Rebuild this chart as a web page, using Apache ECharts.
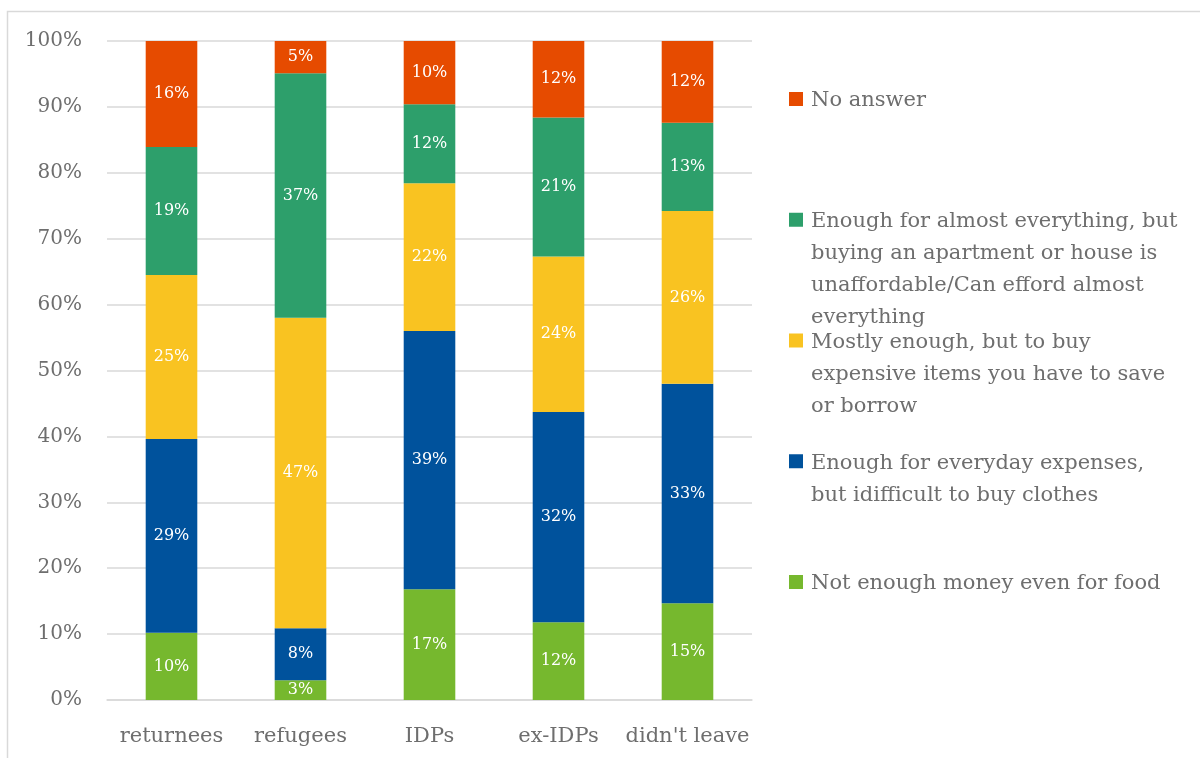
<!DOCTYPE html>
<html>
<head>
<meta charset="utf-8">
<script src="https://cdn.jsdelivr.net/npm/echarts@6/dist/echarts.min.js"></script>
<style>
  html, body { margin: 0; padding: 0; background: #fff; }
  #chart { width: 1200px; height: 758px; }
</style>
</head>
<body>
<div id="chart"></div>
<script>
// Groups by displacement status
const categories = ['returnees', 'refugees', 'IDPs', 'ex-IDPs', "didn't leave"];

// Share of respondents (%) per income-adequacy answer, bottom of stack first
const notEnoughFood   = [10.2, 3.0, 16.8, 11.8, 14.7];
const everydayOnly    = [29.4, 7.9, 39.2, 31.9, 33.3];
const mostlyEnough    = [24.9, 47.1, 22.4, 23.6, 26.2];
const almostEverything = [19.4, 37.1, 12.0, 21.1, 13.4];
const noAnswer        = [16.1, 4.9, 9.6, 11.6, 12.4];

const seriesNames = [
  'Not enough money even for food',
  'Enough for everyday expenses,\nbut idifficult to buy clothes',
  'Mostly enough, but to buy\nexpensive items you have to save\nor borrow',
  'Enough for almost everything, but\nbuying an apartment or house is\nunaffordable/Can efford almost\neverything',
  'No answer'
];
const seriesData = [notEnoughFood, everydayOnly, mostlyEnough, almostEverything, noAnswer];
const colors = ['#76b82e', '#00529c', '#f9c321', '#2d9f6b', '#e64b00'];

const yTicks = [0, 10, 20, 30, 40, 50, 60, 70, 80, 90, 100];

const FONT = 'DejaVu Serif';
const GREY = '#6e6e6e';

const chart = echarts.init(document.getElementById('chart'), null, { renderer: 'canvas' });

// Legend drawn top-to-bottom in reverse stack order, icon on the first text line
const legendTop = 99, legendStep = 120.75, lineH = 32;
const legendGraphics = [];
for (let i = 0; i < seriesNames.length; i++) {
  const idx = seriesNames.length - 1 - i;
  const cy = legendTop + legendStep * i;
  legendGraphics.push({
    type: 'rect',
    shape: { x: 789, y: cy - 7, width: 14, height: 14 },
    style: { fill: colors[idx] }
  });
  legendGraphics.push({
    type: 'text',
    x: 811, y: cy - lineH / 2 + 2,
    style: {
      text: seriesNames[idx],
      font: '21px "' + FONT + '"',
      fill: GREY,
      lineHeight: lineH,
      verticalAlign: 'top',
      align: 'left'
    }
  });
}

chart.setOption({
  animation: false,
  textStyle: { fontFamily: FONT },
  grid: { left: 107, right: 448, top: 41, bottom: 58, containLabel: false },
  legend: { show: false },
  xAxis: {
    type: 'category',
    data: categories,
    axisLine: { show: true, lineStyle: { color: '#d9d9d9', width: 1.5 } },
    axisTick: { show: false },
    axisLabel: { color: GREY, fontSize: 21, fontFamily: FONT, margin: 26, interval: 0 }
  },
  yAxis: {
    type: 'value',
    min: yTicks[0],
    max: yTicks[yTicks.length - 1],
    interval: 10,
    axisLine: { show: false },
    axisTick: { show: false },
    splitLine: { lineStyle: { color: '#d9d9d9', width: 1.5 } },
    axisLabel: { color: GREY, fontSize: 20, fontFamily: FONT, margin: 25, formatter: v => v + '%' }
  },
  series: seriesData.map((d, i) => ({
    name: seriesNames[i],
    type: 'bar',
    stack: 'total',
    barWidth: '40%',
    data: d,
    itemStyle: { color: colors[i] },
    label: {
      show: true,
      position: 'inside',
      color: '#ffffff',
      fontSize: 16,
      fontFamily: FONT,
      formatter: p => Math.round(p.value) + '%'
    }
  })),
  graphic: [
    {
      type: 'rect',
      shape: { x: 7.5, y: 11.5, width: 1220, height: 780 },
      style: { fill: null, stroke: '#d9d9d9', lineWidth: 1.5 },
      silent: true
    },
    ...legendGraphics
  ]
});
</script>
</body>
</html>
